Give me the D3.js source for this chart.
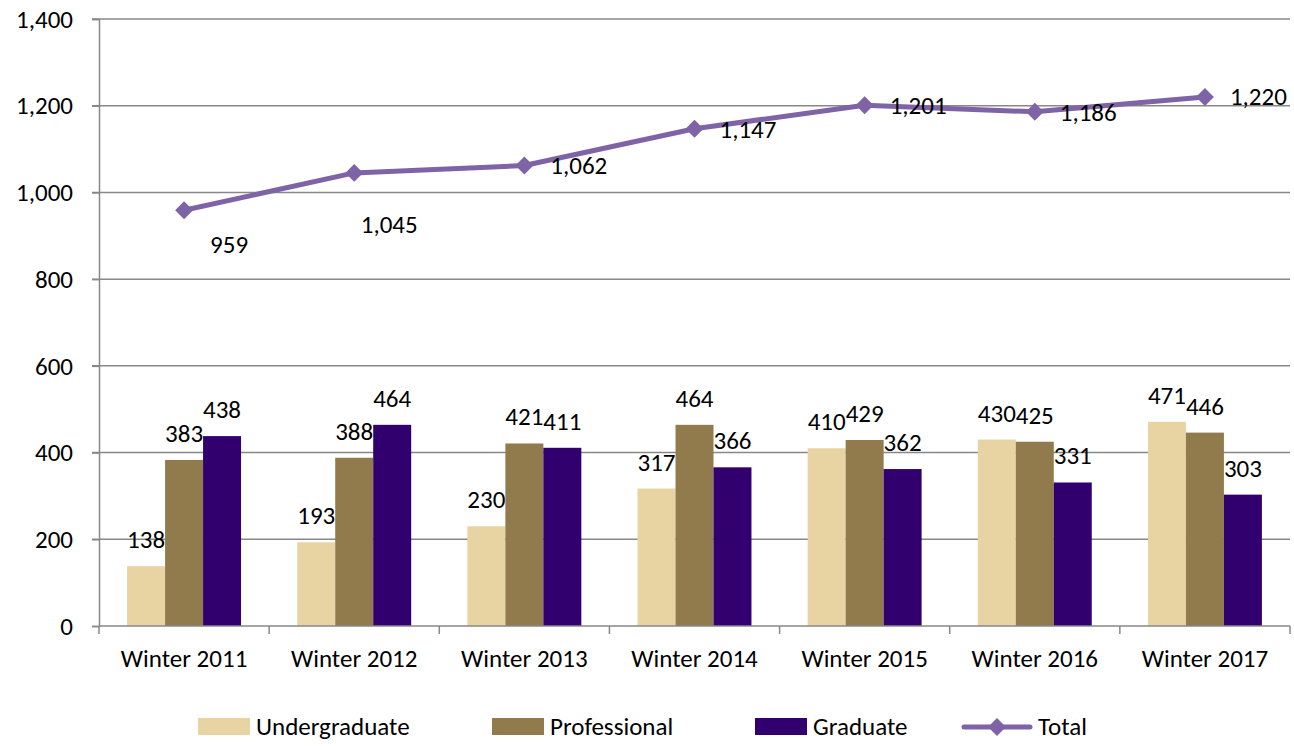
<!DOCTYPE html>
<html lang="en">
<head>
    <meta charset="utf-8">
    <script src="https://d3js.org/d3.v7.min.js"></script>
    <style>
        body { margin: 0; background: #fff; }
        text { font-family: Carlito, "Open Sans", sans-serif; fill: #000; }
    </style>
</head>
<body>
    <div id="graphique"></div>
    <script>
        const categories = ['Winter 2011', 'Winter 2012', 'Winter 2013', 'Winter 2014', 'Winter 2015', 'Winter 2016', 'Winter 2017'];
        const undergraduate = [138, 193, 230, 317, 410, 430, 471];
        const professional = [383, 388, 421, 464, 429, 425, 446];
        const graduate = [438, 464, 411, 366, 362, 331, 303];
        const total = [959, 1045, 1062, 1147, 1201, 1186, 1220];
        const yTicks = [0, 200, 400, 600, 800, 1000, 1200, 1400];

        const series = [
            { nom: 'Undergraduate', valeurs: undergraduate, couleur: '#E8D3A2' },
            { nom: 'Professional', valeurs: professional, couleur: '#917B4C' },
            { nom: 'Graduate', valeurs: graduate, couleur: '#32006E' }
        ];
        const couleurTotal = '#7E63A6';
        const taille = 25;
        const fmt = d3.format(',');

        const svg = d3.select('#graphique').append('svg')
            .attr('width', 1294)
            .attr('height', 750);

        const y = d3.scaleLinear().domain([0, 1400]).range([626, 19]);
        const x = d3.scaleBand().domain(categories).range([99, 1290]);
        const x1 = d3.scaleBand().domain(series.map(s => s.nom))
            .range([0, x.bandwidth()]).paddingOuter(0.74);

        // grille
        svg.append('g').selectAll('line')
            .data(yTicks.filter(t => t > 0))
            .join('line')
            .attr('x1', 92).attr('x2', 1290)
            .attr('y1', d => y(d)).attr('y2', d => y(d))
            .attr('stroke', '#888').attr('stroke-width', 1.5);

        // axe y
        const axeY = svg.append('g')
            .attr('transform', 'translate(99,0)')
            .call(d3.axisLeft(y).tickValues(yTicks).tickFormat(fmt).tickSize(7).tickPadding(19));
        axeY.select('.domain').attr('stroke', '#888').attr('stroke-width', 1.5);
        axeY.selectAll('.tick line').attr('stroke', '#888').attr('stroke-width', 1.5);
        axeY.selectAll('.tick text').attr('font-size', taille).attr('font-family', 'Carlito, "Open Sans", sans-serif').attr('dy', '0.33em');

        // barres
        series.forEach(s => {
            const g = svg.append('g');
            g.selectAll('rect')
                .data(categories)
                .join('rect')
                .attr('x', c => x(c) + x1(s.nom))
                .attr('y', (c, i) => y(s.valeurs[i]))
                .attr('width', x1.bandwidth())
                .attr('height', (c, i) => y(0) - y(s.valeurs[i]))
                .attr('fill', s.couleur);
            g.selectAll('text')
                .data(categories)
                .join('text')
                .attr('x', c => x(c) + x1(s.nom) + x1.bandwidth() / 2)
                .attr('y', (c, i) => y(s.valeurs[i]) - 18)
                .attr('text-anchor', 'middle')
                .attr('font-size', taille)
                .text((c, i) => s.valeurs[i]);
        });

        // axe x
        const axeX = svg.append('g').attr('transform', 'translate(0,626)');
        axeX.append('line').attr('x1', 99).attr('x2', 1290)
            .attr('stroke', '#888').attr('stroke-width', 1.5);
        axeX.selectAll('line.tick')
            .data(categories.map(c => x(c)).concat([1290]))
            .join('line')
            .attr('class', 'tick')
            .attr('x1', d => d).attr('x2', d => d)
            .attr('y1', 0).attr('y2', 8)
            .attr('stroke', '#888').attr('stroke-width', 1.5);
        axeX.selectAll('text')
            .data(categories)
            .join('text')
            .attr('x', c => x(c) + x.bandwidth() / 2)
            .attr('y', 41)
            .attr('text-anchor', 'middle')
            .attr('font-size', taille)
            .text(c => c);

        // ligne total
        const cx = c => x(c) + x.bandwidth() / 2;
        const ligne = d3.line().x((d, i) => cx(categories[i])).y(d => y(d));
        svg.append('path')
            .datum(total)
            .attr('d', ligne)
            .attr('fill', 'none')
            .attr('stroke', couleurTotal)
            .attr('stroke-width', 5)
            .attr('stroke-linejoin', 'round');

        const losange = d3.symbol().type(d3.symbolSquare).size(160);
        svg.append('g').selectAll('path')
            .data(total)
            .join('path')
            .attr('d', losange)
            .attr('transform', (d, i) => `translate(${cx(categories[i])},${y(d)}) rotate(45)`)
            .attr('fill', couleurTotal);

        // étiquettes du total, décalées comme dans l'original
        const decalX = [45, 35, 26, 25, 25, 25, 25];
        const decalY = [43, 60, 8, 9, 9, 9, 8];
        const ancre = ['middle', 'middle', 'start', 'start', 'start', 'start', 'start'];
        svg.append('g').selectAll('text')
            .data(total)
            .join('text')
            .attr('x', (d, i) => cx(categories[i]) + decalX[i])
            .attr('y', (d, i) => y(d) + decalY[i])
            .attr('text-anchor', (d, i) => ancre[i])
            .attr('font-size', taille)
            .text(d => fmt(d));

        // légende
        const legende = [
            { nom: 'Undergraduate', couleur: '#E8D3A2', x: 198 },
            { nom: 'Professional', couleur: '#917B4C', x: 492 },
            { nom: 'Graduate', couleur: '#32006E', x: 755 }
        ];
        const leg = svg.append('g');
        legende.forEach(l => {
            leg.append('rect').attr('x', l.x).attr('y', 718).attr('width', 52).attr('height', 17).attr('fill', l.couleur);
            leg.append('text').attr('x', l.x + 58).attr('y', 735).attr('font-size', taille).text(l.nom);
        });
        leg.append('line').attr('x1', 964).attr('x2', 1030).attr('y1', 727).attr('y2', 727)
            .attr('stroke', couleurTotal).attr('stroke-width', 5).attr('stroke-linecap', 'round');
        leg.append('path').attr('d', losange)
            .attr('transform', 'translate(997,727) rotate(45)')
            .attr('fill', couleurTotal);
        leg.append('text').attr('x', 1038).attr('y', 735).attr('font-size', taille).text('Total');
    </script>
</body>
</html>
